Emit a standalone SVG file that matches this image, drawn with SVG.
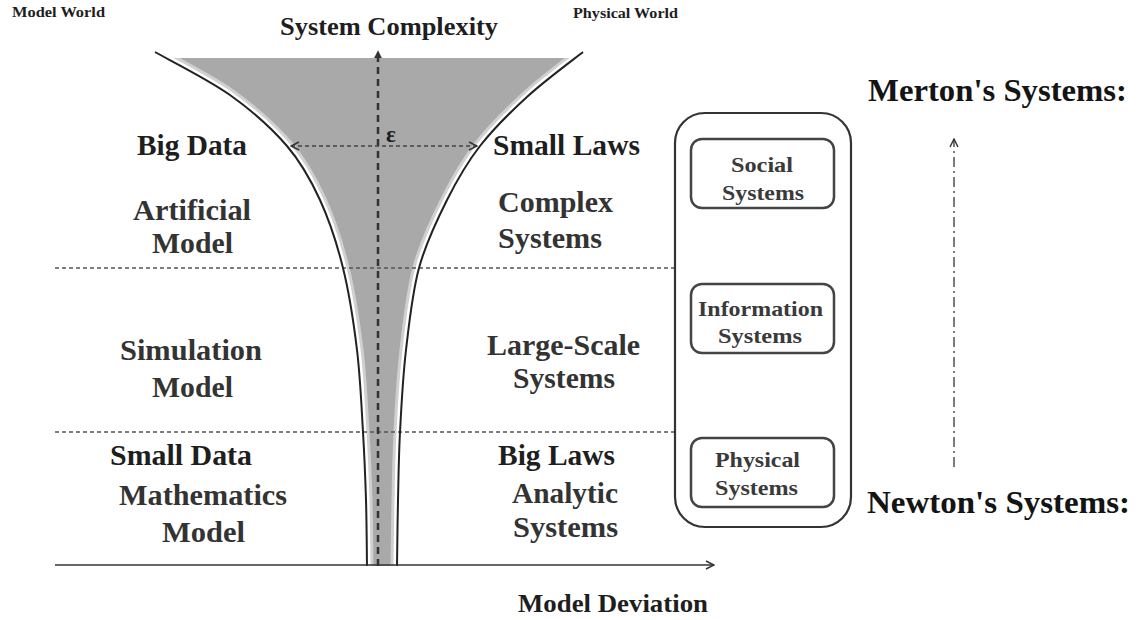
<svg xmlns="http://www.w3.org/2000/svg" width="1141" height="620" viewBox="0 0 1141 620">
<style>
text{font-family:"Liberation Serif","Times New Roman",serif;font-weight:bold;fill:#333}
.big{font-size:29px}
.box{font-size:22px;fill:#3a3a3a}
.dark{fill:#1e1e1e}
.hd{fill:none;stroke:#555;stroke-width:1.3;stroke-dasharray:4 3}
.curve{fill:none;stroke:#222;stroke-width:2}
.halo{fill:none;stroke:#fff;stroke-width:7}
.halo2{fill:none;stroke:#fff;stroke-width:13;stroke-opacity:0.45}
.rbox{fill:#fff;stroke:#444;stroke-width:2.5}
</style>
<defs>
<path id="lc" d="M155,52 C167.5,59.2 208,79.3 230,95 C252,110.7 272,128.5 287,146 C302,163.5 310.7,179.7 320,200 C329.3,220.3 336.8,243 343,268 C349.2,293 353.7,322.7 357,350 C360.3,377.3 361.5,407 363,432 C364.5,457 365.3,477.7 366,500 C366.7,522.3 366.8,555 367,566"/>
<path id="rc" d="M583,52 C573.8,59.3 545.2,80.3 528,96 C510.8,111.7 493.5,128.7 480,146 C466.5,163.3 457.2,179.7 447,200 C436.8,220.3 425.8,243 419,268 C412.2,293 409.2,322.7 406,350 C402.8,377.3 401.3,407 400,432 C398.7,457 398.5,477.7 398,500 C397.5,522.3 397.2,555 397,566"/>
<clipPath id="funnel">
<path d="M155,52 C167.5,59.2 208,79.3 230,95 C252,110.7 272,128.5 287,146 C302,163.5 310.7,179.7 320,200 C329.3,220.3 336.8,243 343,268 C349.2,293 353.7,322.7 357,350 C360.3,377.3 361.5,407 363,432 C364.5,457 365.3,477.7 366,500 C366.7,522.3 366.8,555 367,566 L397,566 C397.2,555 397.5,522.3 398,500 C398.5,477.7 398.7,457 400,432 C401.3,407 402.8,377.3 406,350 C409.2,322.7 412.2,293 419,268 C425.8,243 436.8,220.3 447,200 C457.2,179.7 466.5,163.3 480,146 C493.5,128.7 510.8,111.7 528,96 C545.2,80.3 573.8,59.3 583,52 Z"/>
</clipPath>
<marker id="open" viewBox="0 0 10 10" refX="9" refY="5" markerWidth="10" markerHeight="10" markerUnits="userSpaceOnUse" orient="auto-start-reverse">
<path d="M1,1 L9,5 L1,9" fill="none" stroke="#333" stroke-width="1.4"/>
</marker>
<marker id="solid" viewBox="0 0 10 10" refX="9" refY="5" markerWidth="8" markerHeight="8" markerUnits="userSpaceOnUse" orient="auto">
<path d="M0,0 L10,5 L0,10 Z" fill="#333"/>
</marker>
</defs>
<rect width="1141" height="620" fill="#fff"/>

<g id="funnel-shape">
<g clip-path="url(#funnel)">
<rect x="100" y="58" width="550" height="510" fill="#a9a9a9"/>
<use href="#lc" class="halo2"/>
<use href="#rc" class="halo2"/>
<use href="#lc" class="halo"/>
<use href="#rc" class="halo"/>
</g>
</g>

<g id="connectors">
<line x1="55" y1="268" x2="675" y2="268" class="hd"/>
<line x1="55" y1="432" x2="675" y2="432" class="hd"/>
<use href="#lc" class="curve"/>
<use href="#rc" class="curve"/>
<line x1="55" y1="565" x2="714" y2="565" stroke="#333" stroke-width="1.6" marker-end="url(#open)"/>
<line x1="378" y1="566" x2="378" y2="51" stroke="#333" stroke-width="2.5" stroke-dasharray="7 5" marker-end="url(#solid)"/>
<line x1="291" y1="146" x2="477" y2="146" stroke="#444" stroke-width="1.3" stroke-dasharray="4 3" marker-start="url(#open)" marker-end="url(#open)"/>
<line x1="954" y1="467" x2="954" y2="139" stroke="#444" stroke-width="1.4" stroke-dasharray="10 4 2 4" marker-end="url(#open)"/>
</g>

<g id="labels">
<text x="12" y="17" style="font-size:14px" class="dark" textLength="93" lengthAdjust="spacingAndGlyphs">Model World</text>
<text x="573" y="18" style="font-size:14px" class="dark" textLength="105" lengthAdjust="spacingAndGlyphs">Physical World</text>
<text x="280" y="35" style="font-size:25px" class="dark" textLength="218" lengthAdjust="spacingAndGlyphs">System Complexity</text>
<text x="386" y="142" style="font-size:23px" class="dark">ε</text>
<text x="137" y="155" class="big dark" textLength="110" lengthAdjust="spacingAndGlyphs">Big Data</text>
<text x="493" y="155" class="big dark" textLength="147" lengthAdjust="spacingAndGlyphs">Small Laws</text>
<text x="133" y="220" class="big" textLength="118" lengthAdjust="spacingAndGlyphs">Artificial</text>
<text x="152" y="253" class="big" textLength="81" lengthAdjust="spacingAndGlyphs">Model</text>
<text x="498" y="212" class="big" textLength="115" lengthAdjust="spacingAndGlyphs">Complex</text>
<text x="498" y="248" class="big" textLength="104" lengthAdjust="spacingAndGlyphs">Systems</text>
<text x="120" y="360" class="big" textLength="142" lengthAdjust="spacingAndGlyphs">Simulation</text>
<text x="152" y="397" class="big" textLength="81" lengthAdjust="spacingAndGlyphs">Model</text>
<text x="487" y="355" class="big" textLength="153" lengthAdjust="spacingAndGlyphs">Large-Scale</text>
<text x="513" y="388" class="big" textLength="102" lengthAdjust="spacingAndGlyphs">Systems</text>
<text x="110" y="465" class="big dark" textLength="142" lengthAdjust="spacingAndGlyphs">Small Data</text>
<text x="119" y="505" class="big" textLength="168" lengthAdjust="spacingAndGlyphs">Mathematics</text>
<text x="162" y="542" class="big" textLength="83" lengthAdjust="spacingAndGlyphs">Model</text>
<text x="498" y="465" class="big dark" textLength="117" lengthAdjust="spacingAndGlyphs">Big Laws</text>
<text x="512" y="503" class="big" textLength="106" lengthAdjust="spacingAndGlyphs">Analytic</text>
<text x="513" y="537" class="big" textLength="105" lengthAdjust="spacingAndGlyphs">Systems</text>
<text x="518" y="612" style="font-size:26px" class="dark" textLength="190" lengthAdjust="spacingAndGlyphs">Model Deviation</text>
<text x="868" y="101" style="font-size:31px;fill:#141414" textLength="259" lengthAdjust="spacingAndGlyphs">Merton's Systems:</text>
<text x="867" y="513" style="font-size:31px;fill:#141414" textLength="263" lengthAdjust="spacingAndGlyphs">Newton's Systems:</text>
</g>

<g id="systems-container">
<rect x="675" y="113" width="176" height="414" rx="30" fill="none" stroke="#333" stroke-width="2.2"/>
</g>
<g id="social-systems">
<rect x="691" y="139" width="143" height="69" rx="11" class="rbox"/>
<text x="731" y="172" class="box" textLength="62" lengthAdjust="spacingAndGlyphs">Social</text>
<text x="722" y="200" class="box" textLength="82" lengthAdjust="spacingAndGlyphs">Systems</text>
</g>
<g id="information-systems">
<rect x="691" y="284" width="143" height="69" rx="11" class="rbox"/>
<text x="698" y="316" class="box" textLength="125" lengthAdjust="spacingAndGlyphs">Information</text>
<text x="718" y="343" class="box" textLength="84" lengthAdjust="spacingAndGlyphs">Systems</text>
</g>
<g id="physical-systems">
<rect x="691" y="438" width="143" height="69" rx="11" class="rbox"/>
<text x="715" y="467" class="box" textLength="85" lengthAdjust="spacingAndGlyphs">Physical</text>
<text x="715" y="495" class="box" textLength="83" lengthAdjust="spacingAndGlyphs">Systems</text>
</g>
</svg>
